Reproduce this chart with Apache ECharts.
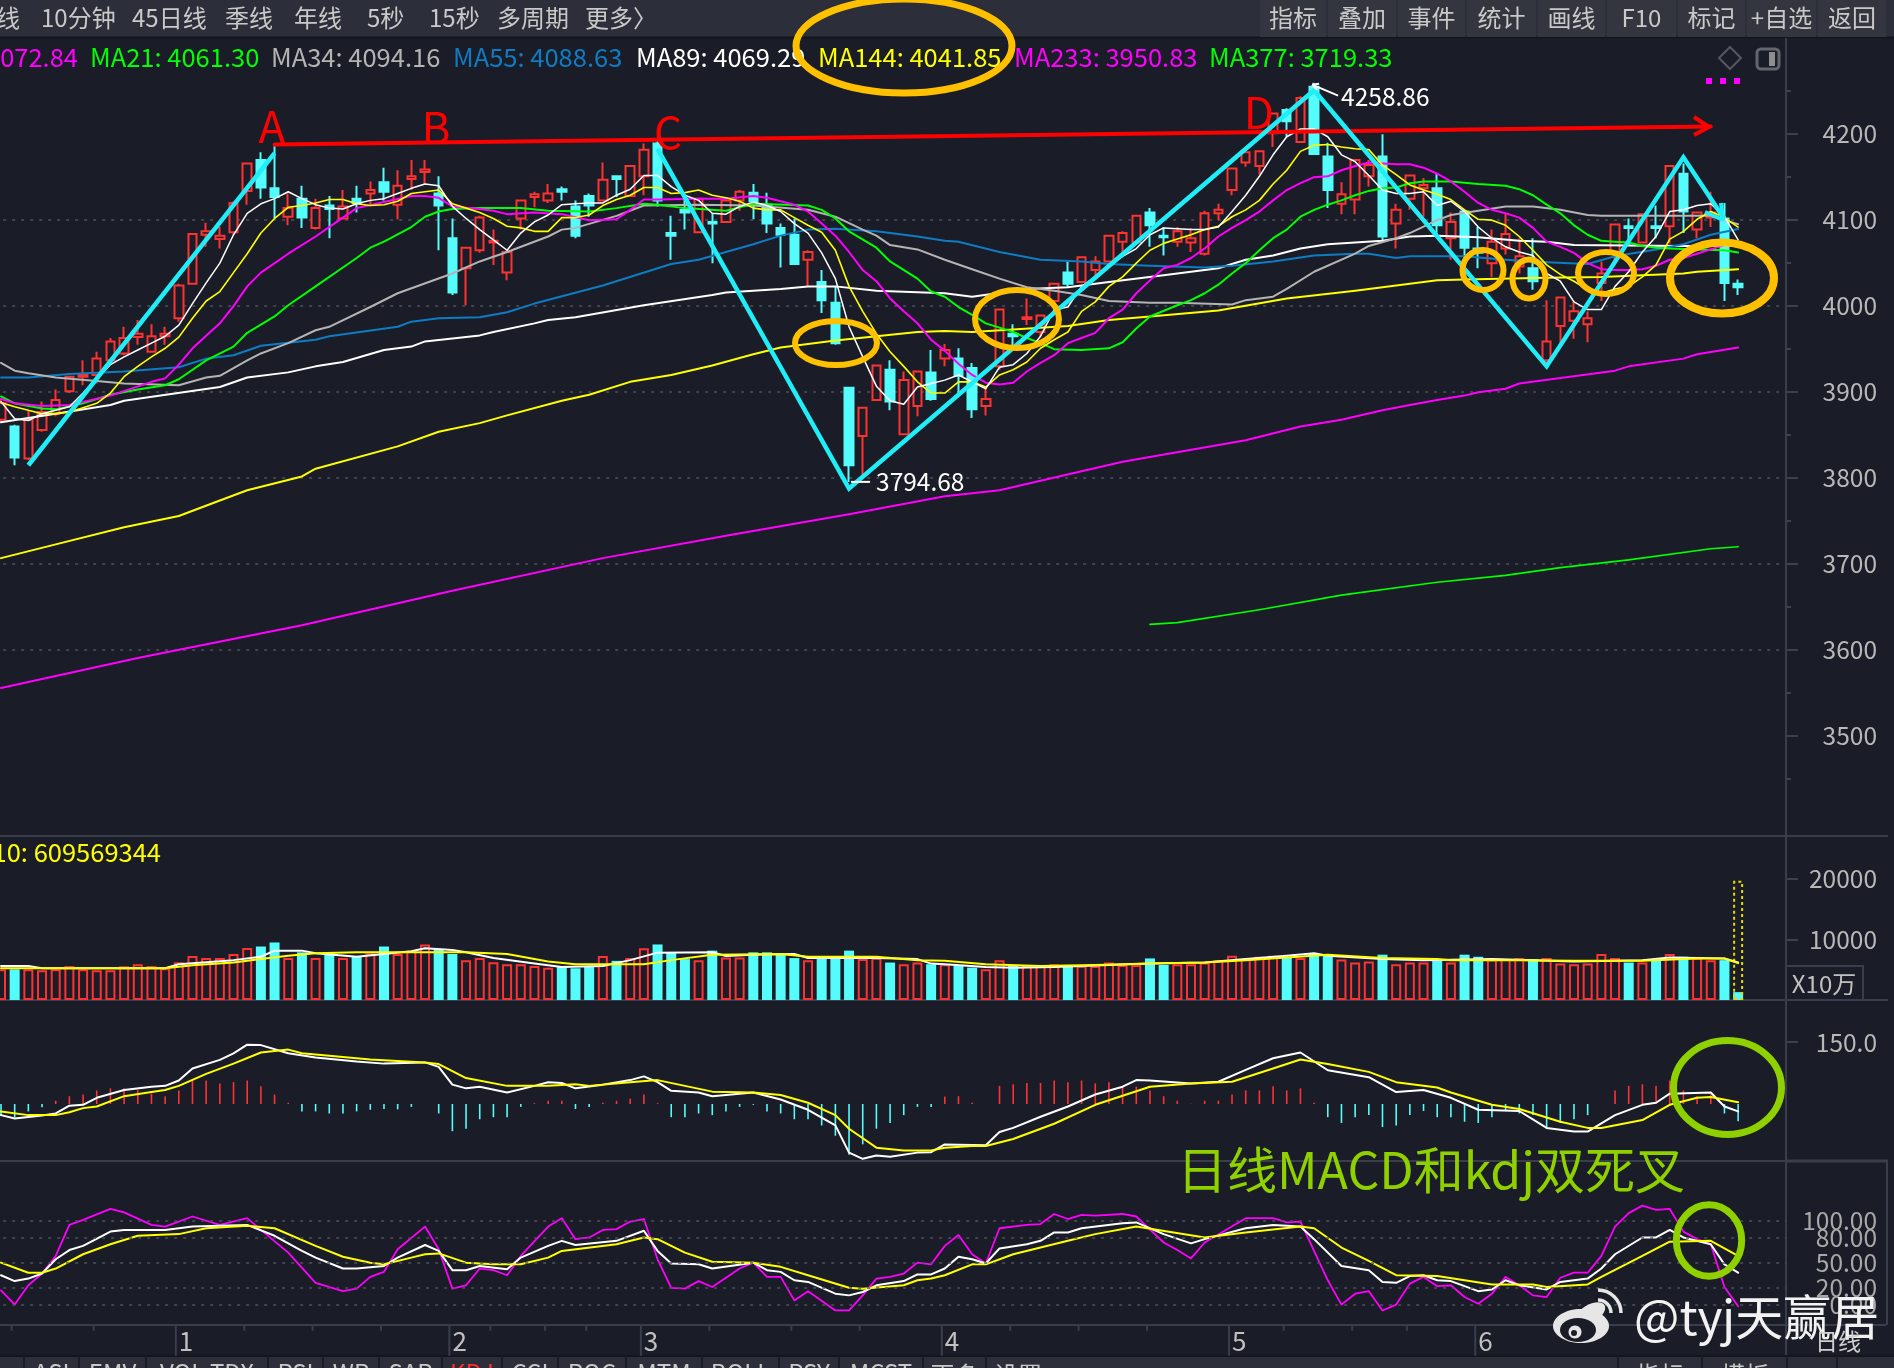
<!DOCTYPE html>
<html>
<head>
<meta charset="utf-8">
<title>上证指数 日线</title>
<style>html,body{margin:0;padding:0;background:#1a1d27;overflow:hidden}#c{width:1894px;height:1368px}</style>
<script src="https://cdn.jsdelivr.net/npm/echarts@6/dist/echarts.min.js"></script>
</head>
<body>
<div id="c"></div>
<script>
// Daily candles
const opens = [
3867,3859,3822,3855,3874,3900,3917,3919,3936,3944,
3963,3946,3964,3985,4025,4082,4077,4085,4133,4169,
4136,4103,4124,4090,4116,4101,4124,4130,4143,4117,
4147,4155,4130,4078,4043,4064,4073,4038,4101,4126,
4122,4135,4115,4127,4122,4150,4127,4150,4188,4084,
4111,4085,4097,4097,4122,4131,4117,4090,4082,4053,
4027,4003,3904,3848,3890,3925,3850,3883,3922,3938,
3938,3927,3883,3929,3967,3984,3969,4005,4038,4027,
4041,4051,4074,4073,4108,4081,4074,4073,4060,4107,
4134,4166,4162,4200,4227,4190,4254,4173,4118,4123,
4150,4173,4095,4124,4136,4136,4078,4109,4066,4049,
4066,4045,4043,3936,3976,3982,3978,4026,4060,4092,
4073,4092,4092,4153,4088,4102,4101,4025];
const closes = [
3886,3823,3867,3876,3890,3917,3919,3938,3958,3962,
3967,3964,3967,4023,4083,4086,4081,4119,4165,4137,
4126,4113,4102,4113,4112,4115,4119,4134,4132,4139,
4150,4158,4116,4015,4067,4102,4075,4062,4122,4129,
4130,4132,4081,4116,4146,4147,4162,4181,4122,4081,
4108,4124,4095,4122,4132,4121,4095,4082,4048,4062,
4006,3956,3814,3881,3930,3888,3913,3923,3891,3948,
3918,3879,3891,3995,3964,3986,3988,4025,4025,4056,
4051,4081,4084,4104,4093,4079,4086,4078,4107,4111,
4159,4178,4179,4223,4214,4241,4176,4134,4129,4169,
4163,4080,4111,4151,4140,4093,4097,4067,4061,4074,
4083,4057,4028,3958,4009,3993,3985,4037,4094,4090,
4106,4090,4162,4109,4108,4108,4026,4021];
const lows = [
3863,3814,3820,3853,3871,3898,3907,3909,3935,3942,
3954,3945,3954,3981,4024,4068,4066,4082,4117,4124,
4101,4093,4090,4088,4078,4100,4108,4117,4122,4100,
4134,4140,4064,4012,4000,4061,4047,4029,4088,4114,
4119,4122,4078,4103,4122,4126,4126,4128,4115,4053,
4088,4084,4049,4096,4110,4100,4084,4044,4047,4022,
3991,3954,3794.68,3801,3889,3878,3849,3871,3889,3929,
3898,3869,3872,3925,3952,3977,3964,4005,4020,4026,
4035,4050,4060,4072,4068,4058,4068,4062,4058,4099,
4128,4161,4152,4184,4196,4189,4175,4113,4106,4106,
4138,4074,4066,4111,4103,4080,4053,4055,4043,4033,
4059,4037,4018,3927,3955,3961,3957,4005,4049,4070,
4072,4078,4072,4084,4078,4091,4005,4012];
const highs = [
3890,3861,3878,3888,3902,3918,3936,3946,3962,3975,
3983,3978,3975,4025,4084,4096,4091,4121,4166,4178,
4185,4130,4139,4124,4127,4134,4139,4144,4160,4157,
4169,4169,4150,4101,4068,4104,4088,4064,4123,4132,
4141,4138,4122,4130,4166,4150,4163,4188,4192,4104,
4126,4125,4107,4122,4134,4141,4131,4095,4101,4064,
4041,4022,3905,3882,3931,3936,3923,3923,3948,3955,
3950,3933,3903,3995,3978,4008,3989,4026,4051,4057,
4057,4082,4086,4105,4113,4091,4091,4090,4110,4118,
4160,4179,4179,4224,4229,4243,4258.86,4189,4143,4170,
4169,4199,4118,4152,4148,4153,4108,4111,4091,4088,
4107,4078,4078,4006,4010,4004,3993,4051,4095,4101,
4107,4116,4163,4165,4109,4132,4119,4030];

// Moving averages: the two fastest hold a value per session, the rest are [session, value] readings
const ma5 = [
3888,3868,3866,3874,3878,3882,3898,3915,3931,3940,
3948,3956,3964,3977,4002,4026,4049,4082,4107,4118,
4124,4132,4124,4117,4113,4112,4118,4122,4124,4130,
4136,4141,4139,4115,4101,4088,4076,4064,4084,4097,
4105,4117,4118,4119,4119,4128,4135,4151,4151,4138,
4128,4122,4107,4106,4115,4120,4116,4109,4095,4084,
4061,4031,3975,3940,3906,3889,3885,3905,3909,3913,
3919,3911,3903,3928,3931,3944,3964,3995,3998,4022,
4033,4045,4057,4066,4082,4090,4089,4088,4088,4091,
4109,4128,4150,4175,4196,4205,4205,4196,4175,4167,
4151,4134,4130,4130,4132,4116,4121,4109,4091,4078,
4068,4062,4058,4037,4028,4004,3995,3995,4022,4039,
4062,4080,4109,4111,4116,4118,4103,4076];
const ma8 = [
3887,3882,3878,3874,3874,3876,3881,3886,3898,3917,
3929,3940,3950,3963,3985,4005,4016,4038,4060,4084,
4101,4114,4116,4119,4123,4123,4118,4116,4117,4121,
4130,4132,4134,4118,4113,4108,4101,4092,4090,4086,
4086,4102,4102,4105,4116,4123,4128,4137,4137,4130,
4131,4134,4128,4125,4121,4113,4111,4111,4102,4093,
4085,4064,4022,3993,3967,3946,3929,3911,3898,3898,
3911,3911,3905,3919,3925,3934,3950,3960,3969,3993,
4004,4022,4033,4049,4064,4072,4077,4082,4088,4092,
4103,4111,4122,4141,4157,4179,4186,4187,4184,4182,
4181,4163,4152,4140,4134,4129,4123,4111,4100,4099,
4093,4080,4064,4047,4036,4028,4018,4014,4019,4022,
4033,4047,4077,4086,4100,4109,4102,4091];
const ma13 = [[0,3891],[1,3886],[3,3883],[5,3884],[8,3895],[11,3911],[12,3915],[13,3931],[14,3950],[16,3979],[17,3999],[18,4022],[19,4038],[21,4060],[23,4080],[25,4102],[26,4113],[28,4120],[30,4127],[31,4127],[32,4125],[33,4115],[35,4112],[36,4110],[37,4106],[39,4108],[41,4106],[43,4099],[45,4100],[46,4111],[47,4123],[48,4123],[51,4124],[53,4124],[55,4127],[56,4125],[58,4117],[59,4109],[60,4095],[61,4081],[62,4062],[63,4041],[64,4028],[65,4008],[66,3993],[67,3979],[68,3960],[69,3947],[70,3932],[71,3919],[72,3910],[73,3908],[74,3910],[75,3923],[76,3933],[77,3942],[78,3956],[79,3962],[80,3968],[81,3985],[82,3995],[83,4014],[84,4029],[85,4043],[86,4047],[87,4055],[88,4066],[89,4080],[90,4090],[91,4099],[92,4109],[93,4122],[94,4134],[95,4142],[96,4149],[97,4150],[98,4157],[99,4162],[100,4166],[101,4165],[102,4164],[103,4164],[104,4160],[105,4153],[106,4144],[107,4132],[108,4119],[109,4111],[110,4107],[111,4102],[112,4090],[113,4074],[114,4068],[115,4061],[116,4049],[117,4042],[118,4041],[119,4041],[120,4042],[121,4046],[122,4053],[123,4055],[124,4060],[125,4065],[126,4070],[127,4072.84]];
const ma21 = [[0,3894],[1,3886],[3,3880],[4,3879],[6,3886],[8,3896],[10,3902],[12,3907],[13,3914],[15,3936],[17,3952],[18,3968],[20,3987],[21,4000],[23,4022],[26,4055],[27,4067],[28,4074],[30,4091],[31,4103],[32,4109],[33,4112],[35,4113],[38,4113],[40,4110],[43,4109],[45,4113],[47,4118],[48,4117],[50,4113],[53,4110],[55,4118],[59,4116],[60,4111],[61,4101],[62,4086],[64,4067],[65,4051],[67,4031],[68,4016],[69,4010],[70,3998],[71,3989],[72,3979],[73,3974],[74,3969],[75,3962],[76,3956],[77,3949],[79,3948],[81,3950],[82,3957],[83,3973],[84,3987],[86,4000],[87,4006],[88,4014],[89,4024],[90,4037],[91,4049],[92,4064],[93,4078],[94,4088],[95,4103],[96,4111],[97,4117],[98,4122],[99,4128],[100,4133],[101,4136],[102,4137],[103,4142],[104,4144],[106,4144],[108,4141],[110,4139],[111,4135],[112,4128],[113,4117],[114,4107],[115,4093],[116,4082],[117,4075],[118,4074],[119,4073],[120,4069],[121,4067],[122,4066],[124,4065],[126,4064],[127,4061.30]];
const ma34 = [[0,3933],[1,3924],[2,3921],[4,3916],[7,3912],[9,3909],[13,3907],[15,3916],[16,3918],[18,3936],[19,3944],[21,3956],[23,3971],[24,3975],[27,3998],[29,4014],[33,4037],[35,4051],[37,4062],[40,4080],[41,4088],[42,4090],[45,4104],[47,4116],[51,4117],[55,4116],[59,4111],[61,4103],[63,4088],[64,4081],[65,4070],[67,4065],[69,4053],[71,4042],[73,4031],[75,4021],[77,4017],[79,4012],[81,4005],[84,4003],[86,4003],[90,4001],[91,4006],[93,4010],[94,4019],[96,4039],[99,4060],[100,4069],[102,4078],[103,4084],[105,4099],[106,4105],[108,4110],[110,4115],[112,4115],[114,4111],[116,4105],[117,4104],[123,4104],[125,4104],[126,4099],[127,4094.16]];
const ma55 = [[0,3916],[2,3916],[5,3920],[9,3923],[13,3928],[15,3938],[17,3942],[19,3953],[23,3960],[24,3964],[29,3975],[30,3981],[32,3985],[35,3986],[37,3992],[39,4002],[44,4023],[49,4048],[51,4053],[55,4071],[57,4081],[59,4088],[61,4089],[64,4086],[67,4080],[69,4075],[70,4074],[73,4062],[76,4053],[79,4051],[81,4048],[84,4046],[88,4044],[90,4046],[93,4051],[96,4058],[99,4060],[100,4060],[102,4055],[103,4057],[107,4057],[110,4053],[113,4050],[116,4048],[118,4057],[121,4065],[123,4071],[125,4082],[127,4088.63]];
const ma89 = [[0,3864],[4,3874],[8,3884],[9,3889],[16,3905],[18,3916],[21,3922],[23,3929],[25,3934],[28,3948],[30,3952],[31,3958],[35,3965],[36,3969],[39,3979],[40,3983],[42,3986],[47,4000],[52,4012],[53,4015],[57,4019],[59,4022],[61,4022],[64,4017],[69,4014],[71,4010],[75,4019],[78,4021],[81,4027],[85,4035],[89,4043],[91,4053],[93,4058],[95,4066],[97,4071],[101,4075],[103,4080],[105,4081],[108,4079],[111,4075],[113,4074],[115,4070],[123,4069],[127,4069.29]];
const ma144 = [[0,3706],[4,3722],[9,3742],[13,3755],[16,3773],[18,3785],[22,3801],[23,3810],[29,3836],[32,3853],[35,3863],[37,3872],[41,3889],[43,3896],[46,3911],[49,3919],[52,3930],[55,3943],[57,3951],[61,3959],[64,3964],[67,3969],[69,3970],[71,3969],[74,3972],[78,3976],[81,3983],[84,3987],[89,3994],[94,4008],[99,4017],[103,4025],[105,4029],[107,4030],[113,4032],[117,4033],[123,4037],[124,4039],[127,4041.85]];
const ma233 = [[0,3555],[10,3590],[22,3628],[33,3668],[44,3706],[53,3732],[62,3757],[69,3778],[73,3785],[82,3818],[91,3843],[95,3859],[98,3867],[101,3878],[103,3884],[105,3890],[107,3895],[108,3899],[110,3903],[111,3909],[118,3924],[119,3929],[123,3938],[124,3943],[127,3950.83]];
const ma377 = [[84,3629],[86,3631],[92,3646],[98,3663],[105,3678],[110,3686],[114,3695],[119,3704],[125,3717],[127,3719.33]];

// Volume, in units of 100,000
const volumes = [
5070,5070,5070,4900,5070,5630,5070,4900,4900,5570,
5910,5630,5240,6250,7260,6930,6930,7600,8610,8840,
9510,6930,7880,6930,7880,6930,7150,7710,8840,7600,
8160,9180,8450,7600,6590,6930,6250,5910,5910,5630,
5350,5460,5240,5460,7260,6470,6930,8560,9180,7880,
6760,6590,8160,7040,7040,7880,7880,7600,6930,6590,
6930,6930,8160,6760,6930,6190,5910,6190,5910,5910,
5740,5350,5070,6590,5630,5630,5630,5910,5800,5630,
5630,6190,5800,5800,6870,5800,5910,5910,6190,6590,
7320,6760,7150,7320,7150,6930,7770,7320,6700,6190,
6360,7490,5910,6190,6190,6590,6190,7490,7150,6700,
6760,6930,6760,6930,6020,5910,6020,7600,6930,6190,
6190,6760,7600,7150,6930,6590,6590,1300];
const volumeForecast = [[127,19700]];
const volMa5 = [[0,5630],[2,5630],[3,5240],[12,5240],[13,5910],[17,6590],[19,7150],[20,8160],[22,8160],[23,7710],[26,7150],[28,7600],[30,8050],[31,8560],[33,8280],[34,7880],[36,6930],[39,6020],[41,5460],[44,5630],[46,6590],[48,7830],[52,7880],[53,7260],[55,7490],[58,7600],[59,6930],[64,6930],[67,6760],[68,6020],[69,5910],[72,5460],[74,5350],[77,5460],[81,5800],[84,6020],[88,6190],[91,6760],[94,7320],[96,7710],[97,7320],[101,6760],[104,6590],[109,6760],[112,6590],[115,6360],[120,6590],[122,7040],[126,6870],[127,6190]];
const volMa10 = [[0,5240],[12,5240],[14,5740],[17,6190],[19,6760],[21,7320],[23,7710],[26,7880],[34,7880],[37,7600],[40,6360],[42,5910],[47,5910],[49,6590],[52,7490],[57,7600],[59,7150],[64,7150],[67,6590],[69,6470],[72,5910],[76,5630],[80,5800],[84,6020],[88,6190],[91,6590],[94,7040],[97,7490],[101,6930],[105,6760],[106,6590],[111,6590],[115,6470],[120,6470],[124,6870],[126,6870],[127,6096]];

// MACD
const macdHist = [
-27,-33,-18,-8,8,19,23,33,38,38,
34,25,19,33,57,57,50,53,57,43,
23,3,-18,-18,-23,-23,-18,-14,-12,-13,
-7,0,-23,-66,-60,-37,-32,-32,-7,2,
8,8,-12,-7,3,8,13,23,2,-32,
-32,-23,-27,-18,-7,-2,-18,-23,-37,-37,
-52,-77,-123,-98,-60,-46,-27,-7,-7,18,
19,3,0,44,48,51,51,57,53,57,
50,53,44,42,33,19,8,0.5,8,8,
23,33,33,43,33,38,3,-32,-46,-32,
-27,-56,-52,-27,-17,-32,-32,-43,-46,-32,
-17,-23,-27,-60,-46,-37,-27,0,33,44,
48,44,57,33,19,23,-23,-42];
const macdDif = [[0,-27],[1,-35],[3,-28],[4,-23],[5,-4],[6,-2],[7,15],[9,34],[11,42],[12,44],[13,57],[14,86],[16,107],[17,123],[18,144],[19,143],[21,123],[23,113],[26,103],[28,98],[31,101],[32,90],[33,47],[34,38],[35,42],[37,28],[39,44],[40,53],[41,51],[42,38],[44,47],[46,58],[47,67],[48,53],[49,32],[51,28],[52,19],[55,28],[57,11],[59,-14],[61,-52],[62,-118],[63,-133],[64,-125],[65,-128],[67,-118],[68,-117],[69,-98],[72,-100],[73,-68],[74,-58],[76,-31],[78,-6],[80,23],[82,42],[83,58],[84,57],[87,50],[89,54],[91,83],[93,111],[95,125],[97,82],[100,65],[102,29],[104,34],[106,15],[108,-14],[111,-17],[113,-58],[115,-67],[116,-67],[118,-27],[120,-2],[121,3],[122,25],[125,28],[126,-6],[127,-18]];
const macdDea = [[0,-18],[2,-27],[4,-27],[5,-20],[6,-10],[7,-6],[9,19],[11,29],[12,34],[13,44],[15,73],[17,98],[19,125],[21,132],[22,123],[24,117],[27,108],[31,101],[32,97],[34,63],[37,44],[40,44],[42,48],[43,44],[46,53],[48,58],[50,44],[52,30],[55,28],[57,22],[59,3],[61,-27],[62,-60],[64,-106],[66,-113],[68,-113],[69,-106],[71,-102],[72,-102],[74,-85],[77,-48],[80,-2],[84,42],[87,50],[90,54],[93,86],[95,108],[97,97],[100,78],[102,53],[105,40],[106,28],[109,-2],[111,-12],[114,-43],[116,-58],[117,-58],[120,-39],[122,-2],[124,15],[125,17],[127,4]];

// KDJ
const kdjK = [[0,35],[1,28],[2,31],[3,37],[4,54],[5,65],[6,70],[8,87],[9,89],[12,89],[14,93],[18,95],[20,82],[22,64],[23,56],[25,43],[26,43],[28,46],[29,56],[31,71],[32,64],[33,41],[34,41],[35,46],[37,42],[38,56],[40,70],[41,76],[42,71],[45,76],[47,88],[48,64],[49,49],[51,48],[52,43],[55,50],[56,41],[57,39],[58,29],[59,27],[61,13],[62,11],[63,15],[64,23],[66,28],[67,36],[68,36],[69,43],[70,57],[71,54],[72,49],[73,67],[75,72],[76,76],[77,86],[78,86],[79,91],[82,97],[83,98],[85,84],[87,73],[88,78],[91,91],[93,95],[95,93],[96,78],[98,46],[100,41],[101,27],[102,26],[103,34],[104,35],[105,29],[106,28],[108,16],[109,18],[110,29],[111,23],[113,18],[114,27],[116,31],[117,43],[118,60],[120,80],[121,80],[122,89],[123,80],[125,72],[126,48],[127,38]];
const kdjD = [[0,50],[2,38],[3,38],[4,43],[6,60],[8,72],[10,82],[13,84],[15,91],[18,94],[20,91],[23,70],[25,57],[27,50],[28,48],[30,56],[31,60],[32,61],[34,50],[36,48],[38,48],[40,56],[41,64],[45,72],[47,80],[48,78],[50,62],[52,51],[55,50],[57,45],[59,35],[62,20],[63,19],[66,23],[67,29],[68,31],[69,35],[71,48],[72,48],[74,60],[78,76],[80,84],[83,93],[88,80],[91,86],[95,93],[96,91],[98,68],[100,52],[102,35],[105,34],[109,24],[112,24],[113,21],[116,24],[117,33],[120,58],[122,75],[125,76],[126,67],[127,58]];
const kdjJ = [[0,17],[1,0],[2,23],[3,37],[4,58],[5,95],[6,101],[8,114],[9,110],[11,95],[12,93],[14,105],[16,95],[18,103],[19,89],[21,62],[23,26],[25,16],[26,19],[27,33],[28,39],[29,66],[31,93],[32,66],[33,19],[34,23],[35,43],[36,41],[37,35],[38,58],[40,93],[41,103],[42,78],[43,80],[44,89],[45,90],[46,99],[47,102],[48,54],[49,20],[50,19],[51,28],[52,21],[54,43],[55,50],[56,33],[57,33],[58,5],[59,16],[61,-7],[62,-7],[63,11],[64,31],[65,33],[66,37],[67,50],[68,48],[69,70],[70,83],[71,60],[72,49],[73,91],[75,95],[76,96],[77,108],[78,102],[79,107],[80,106],[82,108],[83,105],[85,74],[86,65],[87,55],[88,74],[91,103],[93,103],[94,98],[95,99],[97,29],[98,0],[99,13],[100,16],[101,-7],[102,0],[103,25],[104,33],[105,22],[106,23],[107,9],[108,1],[109,13],[110,33],[111,23],[112,11],[113,9],[114,32],[115,38],[116,38],[117,58],[118,93],[119,109],[120,118],[121,113],[122,114],[123,87],[124,78],[125,72],[126,21],[127,-2]];
const kdjLevels = [0,20,50,80,100];

// Hand-drawn analysis strokes
const riseToA = [[2,3814],[20,4177]];
const waveSwings = [[48,4182],[62,3787],[96,4250],[113,3929],[123,4172],[126,4100]];
const resistance = [[20,4187],[125,4208]];
const extremes = [[96,4258.86],[62,3794.68]];

// Time axis
const monthSessions = [13,33,47,69,90,108];
const monthLabels = ['1','2','3','4','5','6'];
const weekSessions = [1,7,18,23,28,36,40,43,52,58,63,74,79,84,94,99,103];

// Header readouts
const maReadouts = [
  ['MA13: 4072.84','#ff00ff'],['MA21: 4061.30','#00ff00'],['MA34: 4094.16','#b4b4b4'],['MA55: 4088.63','#0e7cc4'],
  ['MA89: 4069.29','#ffffff'],['MA144: 4041.85','#ffff00'],['MA233: 3950.83','#ff00ff'],['MA377: 3719.33','#00ff00']
];
const periodTabs = ['日线','10分钟','45日线','季线','年线','5秒','15秒','多周期','更多〉'];
const toolButtons = ['指标','叠加','事件','统计','画线','F10','标记','+自选','返回'];
const indicatorTabs = ['ASI','EMV','VOL-TDX','RSI','WR','SAR','KDJ','CCI','ROC','MTM','BOLL','PSY','MCST','更多','设置'];

const SLOT_COUNT = 131;
const slots = Array.from({length: SLOT_COUNT}, (_, i) => String(i));
const BG = '#1a1d27', RED = '#ff3232', CYAN = '#54fcfc', FONT = '"Noto Sans CJK SC","Noto Sans",sans-serif';
const PLOT_LEFT = -5.84, PLOT_WIDTH = 1791.84;
const DOT = '#4e525e';
const isUp = i => closes[i] >= opens[i];
const gridDots = {show:true, showMinLine:false, showMaxLine:false, lineStyle:{color:DOT, width:1.5, type:[3,6]}};
const tickStyle = {color:'#4a4e5a', width:1.5};

function axisText(customValues, formatter, extra) {
  return Object.assign({
    show:true, color:'#b8b8b8', fontSize:24.5, fontFamily:FONT, align:'right', margin:91,
    customValues, formatter: formatter || (v => String(v)),
    hideOverlap:false, showMinLabel:true, showMaxLabel:true
  }, extra);
}
function rightAxis(gridIndex, extra) {
  return Object.assign({type:'value', gridIndex, position:'right', scale:false, axisLine:{show:false}, splitLine:gridDots}, extra);
}
function bottomAxis(gridIndex) {
  return {type:'category', gridIndex, data:slots, show:false, boundaryGap:true};
}
function line(name, data, color, width, axisIndex, extra) {
  return Object.assign({
    name, type:'line', data, xAxisIndex:axisIndex, yAxisIndex:axisIndex,
    symbol:'none', showSymbol:false, clip:false, animation:false, silent:true,
    lineStyle:{color, width, cap:'round', join:'round'}, z:4
  }, extra);
}

// Page furniture: toolbars, separators, panel boxes, handwriting
const g = [];
const text = (x, y, str, fill, size, align, extra) => g.push(Object.assign({
  type:'text', x, y, z:10,
  style:{text:str, fill, font:`${size}px ${FONT}`, align:align||'left', verticalAlign:'middle'}
}, extra));
const rect = (x, y, w, h, fill, z) => g.push({type:'rect', z:z||1, shape:{x,y,width:w,height:h}, style:{fill}});
const stroke = (x1, y1, x2, y2, color, w, z) => g.push({type:'line', z:z||1, shape:{x1,y1,x2,y2}, style:{stroke:color, lineWidth:w}});
const ring = (cx, cy, rx, ry, color, w) => g.push({type:'ellipse', z:60, shape:{cx,cy,rx,ry}, style:{stroke:color, lineWidth:w, fill:'transparent'}});

rect(0, 0, 1894, 37, '#2c2e3a');
stroke(0, 37.5, 1894, 37.5, '#14161d', 2);
const periodX = [20,41,132,225,294,367,429,497,585];
periodTabs.forEach((t,i) => text(periodX[i], 18, t, '#c9c9c9', 24, i === 0 ? 'right' : 'left'));
const btnEdges = [1259,1327,1397,1466,1537,1606,1677,1746,1817,1887];
toolButtons.forEach((t,i) => {
  rect(btnEdges[i]+1, 0, btnEdges[i+1]-btnEdges[i]-2, 37, '#33353f');
  text((btnEdges[i]+btnEdges[i+1])/2, 18, t, '#c9c9c9', 24, 'center');
});
const maX = [78,90,271,453,636,818,1014,1209];
maReadouts.forEach((m,i) => text(maX[i], 57, m[0], m[1], 25.5, i === 0 ? 'right' : 'left'));
text(161, 852, 'MA10: 609569344', '#ffff00', 25.5, 'right');

// Panel separators and right rail
stroke(1786, 38, 1786, 1356, '#3a3e4a', 2);
stroke(0, 836, 1888, 836, '#3a3e4a', 2);
stroke(0, 1000, 1888, 1000, '#3a3e4a', 2);
stroke(0, 1161, 1786, 1161, '#3a3e4a', 2);
stroke(1786, 1161, 1888, 1161, '#3a3e4a', 3);
stroke(0, 1325, 1886, 1325, '#3a3e4a', 2);
stroke(1887, 1161, 1887, 1325, '#3a3e4a', 2);
g.push({type:'rect', z:1, shape:{x:1786,y:966,width:77,height:34}, style:{fill:'transparent', stroke:'#3a3e4a', lineWidth:2}});
text(1824, 984, 'X10万', '#c0c0c0', 24, 'center');
g.push({type:'polygon', z:5, shape:{points:[[1730,47],[1741,58],[1730,69],[1719,58]]}, style:{fill:'transparent', stroke:'#555860', lineWidth:2}});
g.push({type:'rect', z:5, shape:{x:1757,y:49,width:22,height:20,r:4}, style:{fill:'transparent', stroke:'#63666e', lineWidth:3}});
rect(1769, 52, 6, 14, '#8e8e8e', 5);
[1706,1720,1734].forEach(x => rect(x, 78, 6, 6, '#ff00ff', 5));

// Indicator tab strip along the bottom edge
rect(0, 1356, 1894, 12, '#2c2e3a');
stroke(0, 1356, 1894, 1356, '#14161d', 2);
const tabEdges = [24,79,146,268,323,379,442,502,558,626,702,779,839,923,986,1050];
indicatorTabs.forEach((t,i) => {
  stroke(tabEdges[i], 1356, tabEdges[i], 1368, '#1a1d27', 2, 2);
  const latin = /^[A-Z-]+$/.test(t);
  text((tabEdges[i]+tabEdges[i+1])/2, latin ? 1373 : 1375, t, t === 'KDJ' ? '#ff3030' : '#c9c9c9', 24, 'center');
});
[1618,1702,1787,1837].forEach(x => stroke(x, 1356, x, 1368, '#1a1d27', 2, 2));
text(1660, 1375, '指标', '#c9c9c9', 24, 'center');
text(1745, 1375, '模板', '#c9c9c9', 24, 'center');

// Wave letters, rings and arrows
[['A',272,126],['B',436,127],['C',668,132],['D',1259,112]].forEach(l => text(l[1], l[2], l[0], '#ff0000', 44, 'center', {z:55}));
[[1694,117,1709,127],[1694,135,1709,127]].forEach(a => stroke(a[0],a[1],a[2],a[3],'#ff0000',4,55));
[[1705,212,1723,220],[1721,203,1723,220]].forEach(a => stroke(a[0],a[1],a[2],a[3],'#1feef8',4,55));
const gold = '#ffc000', lime = '#8fd000';
ring(904, 46, 108, 47, gold, 7);
ring(836, 343, 41, 22, gold, 6);
ring(1017, 319, 42, 29, gold, 6);
ring(1483, 270, 20.5, 20, gold, 6);
ring(1529, 279, 16.5, 19.5, gold, 6);
ring(1606, 273, 28, 21, gold, 6);
ring(1722, 278, 52, 35.5, gold, 8);
ring(1727.5, 1087.5, 54, 47, lime, 7);
ring(1709, 1240.5, 32.7, 35.7, lime, 7);
text(1177, 1170, '日线MACD和kdj双死叉', lime, 50, 'left', {z:55});

// Author watermark and the period label under it
const markInk = '#e6e6e6';
g.push({type:'ellipse', z:56, shape:{cx:1581,cy:1326,rx:28,ry:17}, style:{fill:markInk}});
g.push({type:'ellipse', z:56, rotation:0.55, originX:1590, originY:1314, shape:{cx:1590,cy:1314,rx:17,ry:9}, style:{fill:markInk}});
g.push({type:'ellipse', z:57, shape:{cx:1578,cy:1330,rx:18,ry:12}, style:{fill:BG}});
g.push({type:'ellipse', z:58, shape:{cx:1575,cy:1332,rx:6.5,ry:6.5}, style:{fill:markInk}});
g.push({type:'circle', z:59, shape:{cx:1574,cy:1333,r:3}, style:{fill:BG}});
g.push({type:'arc', z:56, shape:{cx:1598,cy:1313,r:13,startAngle:-Math.PI/2,endAngle:0}, style:{stroke:markInk,lineWidth:3.5,fill:'transparent'}});
g.push({type:'arc', z:56, shape:{cx:1598,cy:1313,r:23,startAngle:-Math.PI/2,endAngle:0}, style:{stroke:markInk,lineWidth:3.5,fill:'transparent'}});
text(1634, 1317, '@tyj天赢居', '#f2f2f2', 48, 'left', {z:56});
text(1815, 1341, '日线', '#d0d0d0', 23, 'left', {z:57});

// Leader lines and labels on the highest and lowest sessions
function renderExtreme(params, api) {
  const p = api.coord([api.value(0), api.value(1)]);
  const isHigh = params.dataIndex === 0;
  const x = p[0], y = p[1];
  const shapes = isHigh ? [
    {type:'line', shape:{x1:x-2,y1:y+2,x2:x+24,y2:y+13}, style:{stroke:'#fff',lineWidth:2}},
    {type:'line', shape:{x1:x-2,y1:y+2,x2:x+5,y2:y+1}, style:{stroke:'#fff',lineWidth:2}},
    {type:'line', shape:{x1:x-2,y1:y+2,x2:x+3,y2:y+7}, style:{stroke:'#fff',lineWidth:2}}
  ] : [
    {type:'line', shape:{x1:x+2,y1:y,x2:x+21,y2:y}, style:{stroke:'#fff',lineWidth:2}}
  ];
  shapes.push({type:'text', x:x+27, y:isHigh ? y+14 : y,
    style:{text:api.value(1).toFixed(2), fill:'#fff', font:`24.5px ${FONT}`, verticalAlign:'middle'}});
  return {type:'group', children:shapes};
}

// Month and week ticks below the KDJ panel
function renderMonthTick(params, api) {
  const p = api.coord([api.value(0), api.value(1)]);
  const x = p[0]-3, y = p[1];
  return {type:'group', children:[
    {type:'line', shape:{x1:x,y1:y,x2:x,y2:y+31}, style:{stroke:'#3a3e4a',lineWidth:2}},
    {type:'text', x:x+3, y:y+16, style:{text:monthLabels[params.dataIndex], fill:'#c0c0c0', font:`26px ${FONT}`, verticalAlign:'middle'}}
  ]};
}
function renderWeekTick(params, api) {
  const p = api.coord([api.value(0), api.value(1)]);
  return {type:'line', shape:{x1:p[0]-3,y1:p[1],x2:p[0]-3,y2:p[1]+6}, style:{stroke:'#3a3e4a',lineWidth:2}};
}
// KDJ levels crowd each other on purpose: every one keeps its label
function renderKdjLevel(params, api) {
  const p = api.coord([api.value(0), api.value(1)]);
  return {type:'text', x:1877, y:p[1], style:{text:api.value(1).toFixed(2), fill:'#a8a8a8', font:`24.5px ${FONT}`, align:'right', verticalAlign:'middle'}};
}
const KDJ_FLOOR = -24;
const LAST_SLOT = SLOT_COUNT - 1;

const option = {
  backgroundColor: BG,
  animation: false,
  tooltip: {show:false},
  legend: {show:false},
  graphic: {elements: g},
  grid: [
    {left:PLOT_LEFT, width:PLOT_WIDTH, top:47.3, height:774, outerBoundsMode:'none', containLabel:false},
    {left:PLOT_LEFT, width:PLOT_WIDTH, top:879, height:121, outerBoundsMode:'none', containLabel:false},
    {left:PLOT_LEFT, width:PLOT_WIDTH, top:1042.2, height:123.6, outerBoundsMode:'none', containLabel:false},
    {left:PLOT_LEFT, width:PLOT_WIDTH, top:1220.7, height:83.9, outerBoundsMode:'none', containLabel:false}
  ],
  xAxis: [bottomAxis(0), bottomAxis(1), bottomAxis(2), bottomAxis(3)],
  yAxis: [
    rightAxis(0, {min:3400, max:4300, interval:100,
      axisTick:{show:true, length:12, lineStyle:tickStyle, customValues:[3500,3600,3700,3800,3900,4000,4100,4200]},
      minorTick:{show:true, splitNumber:2, length:5, lineStyle:tickStyle},
      axisLabel:axisText([3500,3600,3700,3800,3900,4000,4100,4200], null, {padding:[0,0,3,0]})}),
    rightAxis(1, {min:0, max:20000, interval:10000,
      axisTick:{show:true, length:12, lineStyle:tickStyle, customValues:[10000,20000]},
      axisLabel:axisText([10000,20000], null, {padding:[0,0,5,0]})}),
    rightAxis(2, {min:-150, max:150, interval:150,
      axisTick:{show:true, length:12, lineStyle:tickStyle, customValues:[150]},
      axisLabel:axisText([150], v => v.toFixed(1), {padding:[0,0,4,0]})}),
    rightAxis(3, {min:0, max:100, interval:20,
      axisTick:{show:false},
      splitLine:{show:false},
      axisLabel:{show:false}})
  ],
  series: [
    {
      name:'K线', type:'candlestick', xAxisIndex:0, yAxisIndex:0, barWidth:9, silent:true, z:2, clip:false,
      data: opens.map((o,i) => [o, closes[i], lows[i], highs[i]]),
      itemStyle:{color:BG, color0:CYAN, borderColor:RED, borderColor0:CYAN, borderWidth:2}
    },
    line('MA377', ma377, '#00ff00', 1.6, 0),
    line('MA233', ma233, '#ff00ff', 2, 0),
    line('MA144', ma144, '#ffff00', 2, 0),
    line('MA89', ma89, '#ffffff', 2, 0),
    line('MA55', ma55, '#0e7cc4', 2, 0),
    line('MA34', ma34, '#b4b4b4', 2, 0),
    line('MA21', ma21, '#00ff00', 2, 0),
    line('MA13', ma13, '#ff00ff', 2, 0),
    line('MA8', ma8.map((v,i) => [i,v]), '#ffff00', 1.6, 0),
    line('MA5', ma5.map((v,i) => [i,v]), '#ffffff', 1.5, 0),
    line('rise', riseToA, '#1feef8', 4.5, 0, {z:8, lineStyle:{color:'#1feef8', width:4.5, cap:'butt', join:'miter'}}),
    line('swings', waveSwings, '#1feef8', 4.5, 0, {z:8, lineStyle:{color:'#1feef8', width:4.5, cap:'butt', join:'miter'}}),
    line('resistance', resistance, '#ff0000', 4, 0, {z:7}),
    {name:'extremes', type:'custom', xAxisIndex:0, yAxisIndex:0, data:extremes, renderItem:renderExtreme, silent:true, z:9, clip:false},

    {
      name:'成交量', type:'bar', xAxisIndex:1, yAxisIndex:1, barWidth:10, barGap:'-100%', silent:true, z:2,
      data: volumes.map((v,i) => ({value:v, itemStyle: isUp(i)
        ? {color:BG, borderColor:RED, borderWidth:2}
        : {color:CYAN, borderWidth:0}}))
    },
    {
      name:'量能预估', type:'bar', xAxisIndex:1, yAxisIndex:1, barWidth:10, barGap:'-100%', silent:true, z:3,
      data: volumeForecast,
      itemStyle:{color:'transparent', borderColor:'#e8d800', borderWidth:2, borderType:[3,3]}
    },
    line('VOL5', volMa5, '#ffffff', 2, 1),
    line('VOL10', volMa10, '#ffff00', 2, 1),

    {
      name:'MACD', type:'bar', xAxisIndex:2, yAxisIndex:2, barWidth:1.6, silent:true, z:2,
      data: macdHist,
      itemStyle:{color: p => p.value >= 0 ? RED : CYAN}
    },
    line('DIF', macdDif, '#ffffff', 2, 2),
    line('DEA', macdDea, '#ffff00', 2, 2),

    line('J', kdjJ, '#ff00ff', 1.8, 3, {markLine:{
      silent:true, symbol:'none', animation:false, label:{show:false},
      lineStyle:{color:DOT, width:1.5, type:[3,6]},
      data: kdjLevels.map(v => ({yAxis:v}))
    }}),
    line('K', kdjK, '#ffffff', 2, 3),
    line('D', kdjD, '#ffff00', 2, 3),
    {name:'levels', type:'custom', xAxisIndex:3, yAxisIndex:3, data:kdjLevels.map(v => [LAST_SLOT, v]), renderItem:renderKdjLevel, silent:true, clip:false, z:3},
    {name:'months', type:'custom', xAxisIndex:3, yAxisIndex:3, data:monthSessions.map(m => [m, KDJ_FLOOR]), renderItem:renderMonthTick, silent:true, clip:false, z:3},
    {name:'weeks', type:'custom', xAxisIndex:3, yAxisIndex:3, data:weekSessions.map(m => [m, KDJ_FLOOR]), renderItem:renderWeekTick, silent:true, clip:false, z:3}
  ]
};

const chart = echarts.init(document.getElementById('c'), null, {renderer:'canvas', width:1894, height:1368});
chart.setOption(option);
</script>
</body>
</html>
